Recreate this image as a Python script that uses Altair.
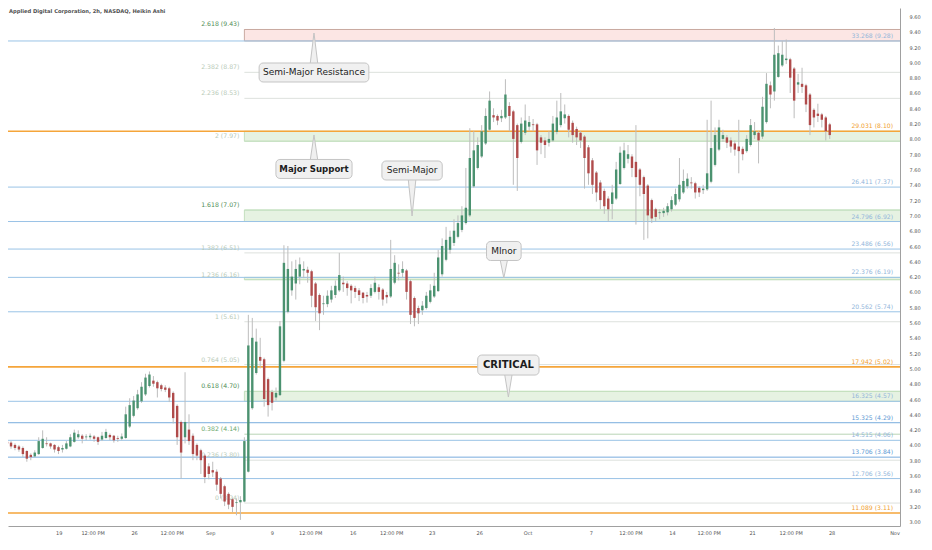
import altair as alt
import pandas as pd

TITLE = "Applied Digital Corporation, 2h, NASDAQ, Heikin Ashi"

# ---------------- Heikin Ashi candles (bar index 0..208) ----------------
OPEN = [
    4.04, 4.03, 4.00, 3.98, 3.96, 3.92, 3.87, 3.85, 3.88, 3.96,
    4.02, 4.02, 4.00, 3.97, 3.94, 3.95, 3.98, 4.04, 4.10, 4.12,
    4.10, 4.10, 4.11, 4.10, 4.07, 4.09, 4.13, 4.12, 4.09, 4.08,
    4.09, 4.24, 4.38, 4.48, 4.57, 4.66, 4.77, 4.84, 4.82, 4.78,
    4.75, 4.74, 4.68, 4.51, 4.30, 4.10, 4.20, 4.12, 4.00, 3.93,
    3.86, 3.72, 3.67, 3.65, 3.56, 3.46, 3.36, 3.29, 3.24, 3.25,
    3.26, 3.65, 4.48, 4.94, 5.15, 5.12, 4.86, 4.69, 4.62, 4.65,
    5.10, 5.74, 6.02, 6.11, 6.20, 6.28, 6.29, 6.27, 6.11, 5.96,
    5.84, 5.84, 5.90, 5.96, 6.02, 6.12, 6.11, 6.08, 6.05, 6.02,
    5.99, 5.96, 5.95, 6.00, 6.06, 6.03, 5.96, 5.94, 6.12, 6.25,
    6.25, 6.28, 6.14, 5.92, 5.79, 5.76, 5.79, 5.87, 5.94, 6.01,
    6.23, 6.42, 6.55, 6.64, 6.72, 6.81, 6.90, 7.00, 7.38, 7.62,
    7.77, 7.94, 8.12, 8.31, 8.30, 8.27, 8.28, 8.43, 8.36, 8.18,
    7.96, 8.08, 8.16, 8.19, 8.19, 8.02, 7.98, 7.95, 7.98, 8.09,
    8.18, 8.27, 8.30, 8.21, 8.13, 8.08, 8.03, 7.89, 7.72, 7.56,
    7.43, 7.32, 7.22, 7.15, 7.22, 7.41, 7.62, 7.74, 7.77, 7.70,
    7.60, 7.50, 7.39, 7.20, 7.08, 7.03, 7.03, 7.04, 7.08, 7.14,
    7.21, 7.30, 7.38, 7.43, 7.42, 7.36, 7.33, 7.34, 7.44, 7.66,
    7.86, 8.00, 8.02, 7.98, 7.94, 7.90, 7.87, 7.84, 7.92, 8.05,
    8.08, 8.03, 8.22, 8.70, 8.62, 8.81, 8.96, 9.03, 9.04, 8.92,
    8.71, 8.72, 8.70, 8.58, 8.38, 8.33, 8.32, 8.28, 8.19,
]
HIGH = [
    4.07, 4.05, 4.02, 4.00, 3.98, 3.93, 3.89, 3.93, 4.10, 4.19,
    4.10, 4.03, 4.01, 3.99, 4.00, 4.05, 4.14, 4.20, 4.19, 4.14,
    4.14, 4.15, 4.13, 4.11, 4.17, 4.21, 4.15, 4.13, 4.12, 4.15,
    4.50, 4.61, 4.64, 4.72, 4.82, 4.93, 4.96, 4.90, 4.84, 4.80,
    4.78, 4.76, 4.70, 4.53, 4.32, 4.95, 4.40, 4.15, 4.02, 3.95,
    3.88, 3.76, 3.78, 3.68, 3.58, 3.48, 3.38, 3.31, 3.30, 3.33,
    4.10, 5.70, 5.66, 5.52, 5.40, 5.14, 4.88, 4.72, 4.75, 5.62,
    6.61, 6.60, 6.40, 6.42, 6.45, 6.40, 6.33, 6.29, 6.13, 5.98,
    5.95, 6.02, 6.08, 6.15, 6.51, 6.20, 6.14, 6.10, 6.08, 6.05,
    6.00, 6.00, 6.10, 6.20, 6.10, 6.05, 6.00, 6.68, 6.48, 6.36,
    6.40, 6.30, 6.16, 5.94, 5.82, 5.88, 6.00, 6.10, 6.25, 6.55,
    6.70, 6.85, 6.80, 6.95, 7.00, 7.12, 7.62, 8.14, 8.10, 8.02,
    8.18, 8.40, 8.62, 8.40, 8.32, 8.38, 8.78, 8.48, 8.38, 8.20,
    8.28, 8.45, 8.30, 8.26, 8.21, 8.05, 8.02, 8.10, 8.30, 8.50,
    8.60, 8.45, 8.32, 8.24, 8.16, 8.10, 8.05, 7.92, 7.75, 7.58,
    7.46, 7.35, 7.25, 7.40, 7.70, 7.90, 7.95, 7.92, 7.80, 8.18,
    7.62, 7.52, 7.41, 7.22, 7.10, 7.08, 7.10, 7.16, 7.25, 7.35,
    7.75, 7.60, 7.55, 7.50, 7.44, 7.38, 7.40, 8.25, 8.50, 8.15,
    8.25, 8.12, 8.05, 8.02, 7.98, 8.25, 7.90, 8.05, 8.26, 8.22,
    8.10, 8.55, 8.86, 8.75, 9.45, 9.22, 9.28, 9.30, 9.06, 8.94,
    8.85, 8.93, 8.72, 8.60, 8.40, 8.46, 8.34, 8.30, 8.21,
]
LOW = [
    3.99, 3.95, 3.93, 3.91, 3.84, 3.78, 3.80, 3.84, 3.87, 3.95,
    3.98, 3.95, 3.90, 3.88, 3.90, 3.94, 3.97, 4.03, 4.08, 4.02,
    4.06, 4.07, 4.04, 4.00, 4.05, 4.08, 4.06, 4.03, 4.04, 4.06,
    4.08, 4.22, 4.36, 4.46, 4.55, 4.64, 4.75, 4.76, 4.62, 4.70,
    4.69, 4.56, 4.28, 4.00, 3.56, 4.02, 4.00, 3.80, 3.80, 3.62,
    3.50, 3.55, 3.58, 3.40, 3.30, 3.20, 3.16, 3.12, 3.08, 3.02,
    3.25, 3.64, 4.46, 4.92, 5.00, 4.50, 4.37, 4.45, 4.58, 4.64,
    5.08, 5.72, 5.95, 5.90, 6.10, 6.18, 6.12, 5.80, 5.62, 5.50,
    5.70, 5.80, 5.86, 5.92, 6.00, 6.00, 5.95, 5.85, 5.92, 5.88,
    5.85, 5.86, 5.92, 5.98, 5.90, 5.82, 5.85, 5.92, 6.10, 6.15,
    6.18, 5.90, 5.58, 5.55, 5.58, 5.70, 5.77, 5.85, 5.92, 6.00,
    6.20, 6.40, 6.50, 6.60, 6.70, 6.78, 6.88, 6.98, 7.36, 7.60,
    7.75, 7.92, 8.10, 8.22, 8.18, 8.22, 8.26, 8.10, 7.40, 7.32,
    7.94, 8.05, 8.10, 8.10, 7.66, 7.80, 7.75, 7.90, 7.96, 8.06,
    8.15, 8.20, 8.02, 7.95, 7.92, 7.88, 7.35, 7.40, 7.28, 7.18,
    7.08, 7.02, 6.92, 6.95, 7.20, 7.40, 7.60, 7.68, 7.50, 6.88,
    7.25, 6.68, 6.70, 6.90, 6.92, 6.95, 6.98, 7.00, 7.05, 7.12,
    7.18, 7.28, 7.35, 7.35, 7.22, 7.24, 7.28, 7.32, 7.42, 7.64,
    7.84, 7.96, 7.88, 7.82, 7.78, 7.55, 7.72, 7.82, 7.90, 8.00,
    7.68, 8.00, 8.20, 8.40, 8.50, 8.80, 8.94, 8.98, 8.60, 8.27,
    8.60, 8.60, 8.35, 8.05, 8.15, 8.22, 8.15, 7.98, 8.00,
]
CLOSE = [
    4.02, 3.98, 3.96, 3.94, 3.88, 3.82, 3.84, 3.90, 4.05, 4.08,
    4.01, 3.98, 3.94, 3.92, 3.96, 4.02, 4.10, 4.16, 4.14, 4.08,
    4.11, 4.12, 4.08, 4.04, 4.12, 4.17, 4.10, 4.06, 4.08, 4.11,
    4.40, 4.52, 4.58, 4.66, 4.76, 4.88, 4.92, 4.80, 4.74, 4.73,
    4.72, 4.62, 4.35, 4.10, 3.90, 4.30, 4.05, 3.88, 3.86, 3.80,
    3.58, 3.62, 3.64, 3.48, 3.36, 3.26, 3.22, 3.19, 3.25, 3.28,
    4.05, 5.30, 5.40, 5.35, 5.10, 4.60, 4.52, 4.55, 4.68, 5.55,
    6.38, 6.30, 6.20, 6.30, 6.36, 6.30, 6.25, 5.95, 5.80, 5.72,
    5.85, 5.95, 6.02, 6.08, 6.22, 6.10, 6.05, 6.02, 6.00, 5.96,
    5.92, 5.94, 6.05, 6.12, 6.00, 5.90, 5.93, 6.30, 6.38, 6.24,
    6.30, 6.00, 5.70, 5.66, 5.72, 5.82, 5.95, 6.02, 6.08, 6.45,
    6.60, 6.68, 6.72, 6.80, 6.90, 7.00, 7.10, 7.75, 7.85, 7.92,
    8.10, 8.30, 8.50, 8.28, 8.24, 8.30, 8.58, 8.30, 8.00, 7.75,
    8.20, 8.24, 8.22, 8.18, 7.85, 7.95, 7.92, 8.00, 8.20, 8.28,
    8.36, 8.32, 8.12, 8.05, 8.02, 7.98, 7.75, 7.55, 7.40, 7.30,
    7.20, 7.12, 7.08, 7.30, 7.60, 7.82, 7.85, 7.80, 7.62, 7.50,
    7.40, 7.28, 7.00, 6.96, 6.98, 7.04, 7.06, 7.12, 7.20, 7.28,
    7.40, 7.45, 7.48, 7.42, 7.30, 7.30, 7.35, 7.55, 7.88, 8.05,
    8.15, 8.05, 7.95, 7.90, 7.86, 7.84, 7.80, 8.00, 8.18, 8.10,
    7.98, 8.42, 8.72, 8.58, 9.10, 9.12, 9.10, 9.05, 8.80, 8.50,
    8.74, 8.68, 8.45, 8.18, 8.28, 8.30, 8.25, 8.10, 8.05,
]

# ---------------- axes ----------------
XTICK_POS = [13.2, 21.75, 32.25, 41.75, 51.5, 67.1, 76.75, 87.5, 97.25, 107.5,
             119.5, 131.75, 147.75, 157.75, 168.25, 177.5, 188.5, 198.25, 208.6, 224.5]
XTICK_TXT = ["19", "12:00 PM", "26", "12:00 PM", "Sep", "9", "12:00 PM", "16", "12:00 PM", "23",
             "26", "Oct", "7", "12:00 PM", "14", "12:00 PM", "21", "12:00 PM", "28", "Nov"]
YTICKS = [3.0, 3.2, 3.4, 3.6, 3.8, 4.0, 4.2, 4.4, 4.6, 4.8, 5.0, 5.2, 5.4, 5.6, 5.8, 6.0, 6.2,
          6.4, 6.6, 6.8, 7.0, 7.2, 7.4, 7.6, 7.8, 8.0, 8.2, 8.4, 8.6, 8.8, 9.0, 9.2, 9.4, 9.6]

# ---------------- full-width level tool (labels on the right) ----------------
R_LEVELS = [9.28, 8.10, 7.37, 6.92, 6.56, 6.19, 5.74, 5.02, 4.57, 4.29, 4.06, 3.84, 3.56, 3.11]
R_RATIOS = ["33.268", "29.031", "26.411", "24.796", "23.486", "22.376", "20.562", "17.942",
            "16.325", "15.325", "14.515", "13.706", "12.706", "11.089"]
R_KIND = ["blue", "orange", "blue", "blue", "blue", "blue", "blue", "orange",
          "blue", "blue2", "blue", "blue2", "blue", "orange"]

# ---------------- fib extension (labels on the left) ----------------
F_LEVELS = [9.43, 8.87, 8.53, 7.97, 7.07, 6.51, 6.16, 5.61, 5.05, 4.70, 4.14, 3.80, 3.24]
F_RATIOS = ["2.618", "2.382", "2.236", "2", "1.618", "1.382", "1.236", "1", "0.764",
            "0.618", "0.382", "0.236", "0"]
F_TIER = ["strong", "faint", "faint", "faint", "strong", "faint", "faint", "faint", "faint",
          "strong", "mid", "faint", "faint"]
F_START = 60.0      # bar index where the fib tool starts
F_LABEL_X = 58.75   # bar index of the right edge of the left labels

# ---------------- zones ----------------
BAND_LO = [9.28, 7.97, 6.92, 6.16, 4.57]
BAND_HI = [9.43, 8.10, 7.07, 6.19, 4.70]
BAND_KIND = ["red", "green", "green", "green", "green"]

# ---------------- callouts ----------------
ANN_TEXT = ["Semi-Major Resistance", "Major Support", "Semi-Major", "MInor", "CRITICAL"]
ANN_X = [77.6, 77.6, 102.4, 125.6, 126.75]
ANN_Y = [8.868, 7.607, 7.587, 6.535, 5.044]
ANN_TIP = [9.384, 8.051, 6.992, 6.182, 4.626]

# ---------------- styles ----------------
FONT = "DejaVu Sans"
ANN_STYLE = {  # box width px, box height px, font size, weight
    "Semi-Major Resistance": (111, 19, 9.0, "normal"),
    "Major Support": (77, 19, 8.6, "bold"),
    "Semi-Major": (61, 19, 9.0, "normal"),
    "MInor": (35, 19, 9.0, "normal"),
    "CRITICAL": (62, 20, 10.0, "bold"),
}
LINE_COL = {"blue": "#9ac3e6", "blue2": "#78acdd", "orange": "#f5a53a"}
LINE_W = {"blue": 1.0, "blue2": 1.0, "orange": 1.6}
RLAB_COL = {"blue": "#93b6da", "blue2": "#5e9ad4", "orange": "#f0a030"}
FLAB_COL = {"strong": "#4f8d55", "mid": "#6aa86c", "faint": "#b8cab8"}
BAND_FILL = {"red": "#fce6e4", "green": "#e6f2e2"}
BAND_STROKE = {"red": "#c9aaa1", "green": "#c4e0bf"}
GREEN, RED, WICK = "#4b9270", "#b04b4b", "#bdbdbd"
AXIS_COL = "#a0a0a0"

X_DOM = [1.5, 224.5]
Y_DOM = [2.94, 9.711]
W, H = 892, 518
PXX = W / (X_DOM[1] - X_DOM[0])
PXY = H / (Y_DOM[1] - Y_DOM[0])

xsc = alt.Scale(domain=X_DOM, nice=False, zero=False)
ysc = alt.Scale(domain=Y_DOM, nice=False, zero=False)
XAX = alt.Axis(labels=False, ticks=False, grid=False, title=None,
               domainColor=AXIS_COL, domainWidth=1)
YAX = alt.Axis(orient="right", values=YTICKS, format=".2f", ticks=False, grid=False,
               title=None, labelFont=FONT, labelFontSize=5, labelColor="#555555",
               labelPadding=9, domainColor=AXIS_COL, domainWidth=1)


def X(f):
    return alt.X(f, type="quantitative", scale=xsc, axis=XAX)


def Y(f):
    return alt.Y(f, type="quantitative", scale=ysc, axis=YAX)


# ---------------- tables ----------------
cdf = pd.DataFrame({"i": list(range(len(CLOSE))), "o": OPEN, "h": HIGH, "l": LOW, "c": CLOSE})

bdf = pd.DataFrame({
    "lo": BAND_LO, "hi": BAND_HI,
    "x0": [F_START] * len(BAND_LO), "x1": [X_DOM[1] + 5] * len(BAND_LO),
    "fill": [BAND_FILL[k] for k in BAND_KIND],
    "stroke": [BAND_STROKE[k] for k in BAND_KIND],
})

edge_col = {}
for lo, hi, k in zip(BAND_LO, BAND_HI, BAND_KIND):
    edge_col[lo] = BAND_STROKE[k]
    edge_col[hi] = BAND_STROKE[k]
fdf = pd.DataFrame({
    "lvl": F_LEVELS,
    "x0": [F_START] * len(F_LEVELS), "x1": [X_DOM[1] + 5] * len(F_LEVELS),
    "xl": [F_LABEL_X] * len(F_LEVELS),
    "label": [f"{r} ({v:.2f})" for r, v in zip(F_RATIOS, F_LEVELS)],
    "lcol": [edge_col.get(v, "#b9d4b6" if t == "mid" else "#dde1dd") for v, t in zip(F_LEVELS, F_TIER)],
    "tcol": [FLAB_COL[t] for t in F_TIER],
})

rdf = pd.DataFrame({
    "lvl": R_LEVELS,
    "xl": [X_DOM[1] - 0.5] * len(R_LEVELS),
    "label": [f"{r} ({v:.2f})" for r, v in zip(R_RATIOS, R_LEVELS)],
    "lcol": [LINE_COL[k] for k in R_KIND],
    "lw": [LINE_W[k] for k in R_KIND],
    "tcol": [RLAB_COL[k] for k in R_KIND],
})

box_rows, ptr_rows = [], []
for k, t in enumerate(ANN_TEXT):
    w, h, fs, fw = ANN_STYLE[t]
    cx, cy, tip = ANN_X[k], ANN_Y[k], ANN_TIP[k]
    hw, hh = w / 2 / PXX, h / 2 / PXY
    box_rows.append(dict(t=t, x0=cx - hw, x1=cx + hw, y0=cy - hh, y1=cy + hh,
                         cx=cx, cy=cy, fs=fs, fw=fw))
    edge = (cy + hh - 2 / PXY) if tip > cy else (cy - hh + 2 / PXY)
    half = 4 / PXX
    ptr_rows.append(dict(id=k, y=edge, xa=cx - half, xb=cx + half))
    ptr_rows.append(dict(id=k, y=tip, xa=cx, xb=cx))
boxdf = pd.DataFrame(box_rows)
ptrdf = pd.DataFrame(ptr_rows)

xdf = pd.DataFrame({"pos": XTICK_POS, "txt": XTICK_TXT})

# ---------------- layers ----------------
bands = alt.Chart(bdf).mark_rect(clip=True, strokeWidth=1).encode(
    x=X("x0"), x2=alt.X2("x1"), y=Y("lo"), y2=alt.Y2("hi"),
    fill=alt.Fill("fill:N", scale=None),
    stroke=alt.Stroke("stroke:N", scale=None),
)

fib_lines = alt.Chart(fdf).mark_rule(clip=True, strokeWidth=1).encode(
    x=X("x0"), x2=alt.X2("x1"), y=Y("lvl"),
    stroke=alt.Stroke("lcol:N", scale=None),
)

full_lines = alt.Chart(rdf).mark_rule().encode(
    y=Y("lvl"),
    stroke=alt.Stroke("lcol:N", scale=None),
    strokeWidth=alt.StrokeWidth("lw:Q", scale=None),
)

fib_labels = alt.Chart(fdf).mark_text(
    align="right", baseline="alphabetic", dy=-3, font=FONT, fontSize=6.2
).encode(x=X("xl"), y=Y("lvl"), text="label:N", color=alt.Color("tcol:N", scale=None))

r_labels = alt.Chart(rdf).mark_text(
    align="right", baseline="alphabetic", dy=-3, font=FONT, fontSize=6.1
).encode(x=X("xl"), y=Y("lvl"), text="label:N", color=alt.Color("tcol:N", scale=None))

wicks = alt.Chart(cdf).mark_rule(color=WICK, strokeWidth=1, clip=True).encode(
    x=X("i"), y=Y("l"), y2=alt.Y2("h"))

bodies = alt.Chart(cdf).mark_bar(size=2.4, clip=True).encode(
    x=X("i"), y=Y("o"), y2=alt.Y2("c"),
    color=alt.condition("datum.c >= datum.o", alt.value(GREEN), alt.value(RED)),
)

pointers = alt.Chart(ptrdf).mark_area(
    orient="horizontal", fill="#f0f0f0", stroke="#c4c4c4", strokeWidth=1
).encode(y=Y("y"), x=X("xa"), x2=alt.X2("xb"), detail="id:N")

boxes = alt.Chart(boxdf).mark_rect(
    cornerRadius=4, fill="#f0f0f0", stroke="#c4c4c4", strokeWidth=1
).encode(x=X("x0"), x2=alt.X2("x1"), y=Y("y0"), y2=alt.Y2("y1"))

txt_norm = alt.Chart(boxdf).transform_filter("datum.fw == 'normal'").mark_text(
    font=FONT, color="#1c1c1c", baseline="middle", align="center"
).encode(x=X("cx"), y=Y("cy"), text="t:N", size=alt.Size("fs:Q", scale=None))

txt_bold = alt.Chart(boxdf).transform_filter("datum.fw == 'bold'").mark_text(
    font=FONT, color="#1c1c1c", baseline="middle", align="center", fontWeight="bold"
).encode(x=X("cx"), y=Y("cy"), text="t:N", size=alt.Size("fs:Q", scale=None))

xlabels = alt.Chart(xdf).mark_text(
    font=FONT, fontSize=5, color="#555555", baseline="middle", align="center"
).encode(x=X("pos"), y=alt.value(H + 7), text="txt:N")

title = alt.Chart(pd.DataFrame({"t": [TITLE]})).mark_text(
    font=FONT, fontSize=5.2, fontWeight="bold", color="#505050", align="left", baseline="middle"
).encode(x=alt.value(1), y=alt.value(3), text="t:N")

chart = alt.layer(
    bands, fib_lines, full_lines, fib_labels, r_labels, wicks, bodies,
    pointers, boxes, txt_norm, txt_bold, xlabels, title
).properties(
    width=W, height=H,
    padding={"left": 0, "top": 0, "right": 24, "bottom": 12},
    autosize=alt.AutoSizeParams(type="none"),
    background="white",
).configure_view(strokeWidth=0)

chart.save("out.html", embed_options={"renderer": "svg", "actions": False})
